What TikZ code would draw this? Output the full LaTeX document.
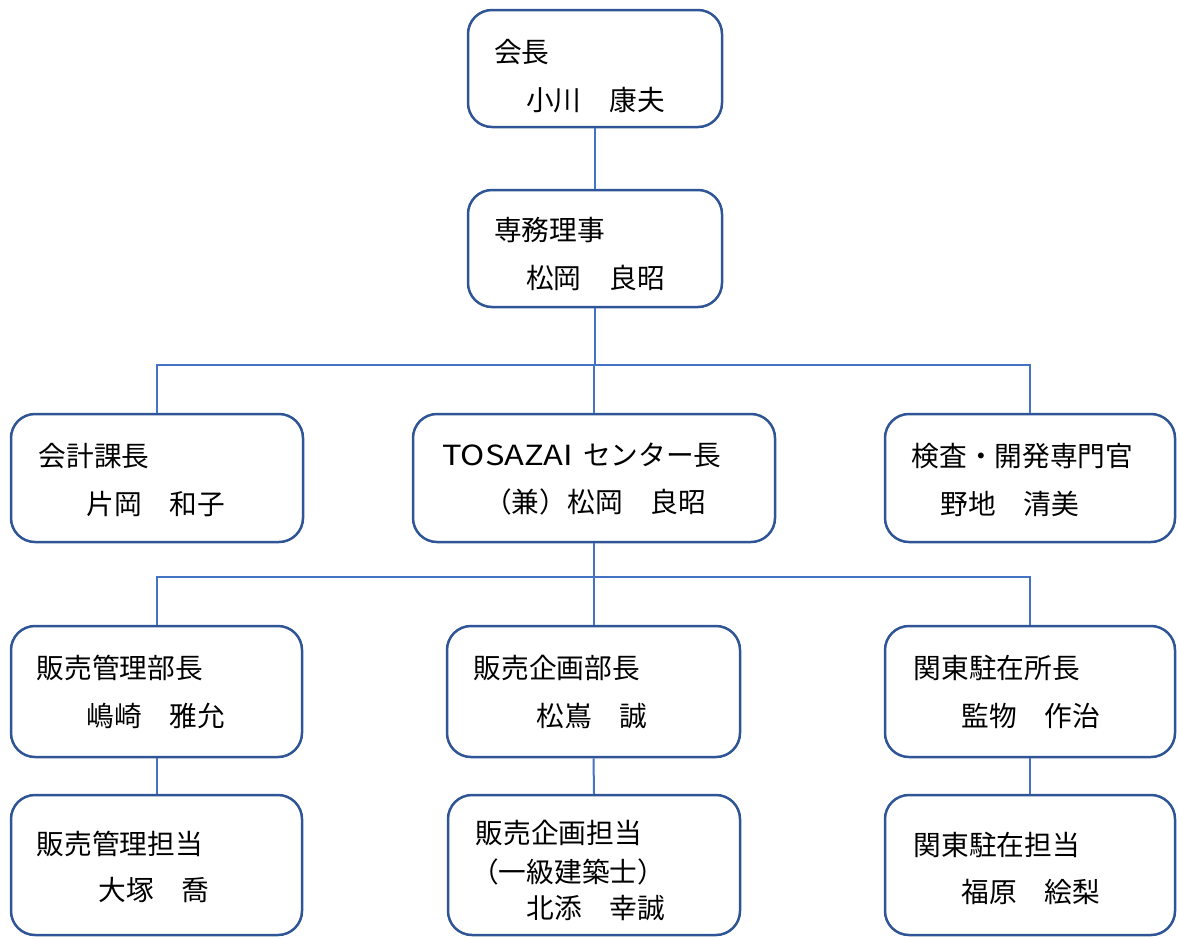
\documentclass[tikz,border=0pt]{standalone}
\usepackage{fontspec}
\setmainfont{Noto Sans CJK JP}
\definecolor{boxc}{HTML}{2F5597}
\definecolor{linec}{HTML}{4472C4}
\newcommand\jpsize{\fontsize{27.7}{33}\selectfont}
\begin{document}
\begin{tikzpicture}[x=1pt,y=-1pt,
  box/.style={rectangle,draw=boxc,line width=2.5pt,rounded corners=24pt,fill=white,inner sep=0pt},
  conn/.style={draw=linec,line width=2pt},
  lbl/.style={anchor=base west,inner sep=0pt,font=\jpsize}]
\useasboundingbox (0,0) rectangle (1177,938);
% boxes
\node[box,minimum width=254pt,minimum height=117pt] (b1) at (595,68.5) {};
\node[box,minimum width=254pt,minimum height=117pt] (b2) at (595,248.5) {};
\node[box,minimum width=292pt,minimum height=128pt] (b3) at (157,478) {};
\node[box,minimum width=362pt,minimum height=128pt] (b4) at (594,478) {};
\node[box,minimum width=290pt,minimum height=128pt] (b5) at (1030,478) {};
\node[box,minimum width=291pt,minimum height=131pt] (b6) at (156.5,691.5) {};
\node[box,minimum width=293pt,minimum height=131pt] (b7) at (593.5,691.5) {};
\node[box,minimum width=290pt,minimum height=131pt] (b8) at (1030,691.5) {};
\node[box,minimum width=291pt,minimum height=140pt] (b9) at (156.5,865) {};
\node[box,minimum width=292pt,minimum height=140pt] (b10) at (594,865) {};
\node[box,minimum width=290pt,minimum height=140pt] (b11) at (1030,865) {};
% connectors
\coordinate (bus1) at (0,365);
\coordinate (bus2) at (0,577);
\draw[conn] (b1.south) -- (b2.north);
\draw[conn] (b2.south) -- (b2.south |- bus1);
\draw[conn] (b3.north) -- (b3.north |- bus1) -- (b5.north |- bus1) -- (b5.north);
\draw[conn] (b4.north) -- (b4.north |- bus1);
\draw[conn] (b4.south) -- (b4.south |- bus2);
\draw[conn] (b6.north) -- (b6.north |- bus2) -- (b8.north |- bus2) -- (b8.north);
\draw[conn] (b7.north) -- (b7.north |- bus2);
\draw[conn] (b6.south) -- (b9.north);
\draw[conn] (b7.south) -- (b10.north);
\draw[conn] (b8.south) -- (b11.north);
% texts
\node[lbl] (t1a) at (494,62) {会長};
\node[lbl] (t1b) at (526,110.5) {小川　康夫};
\node[lbl] (t2a) at (494,240.5) {専務理事};
\node[lbl] (t2b) at (526,288) {松岡　良昭};
\node[lbl] (t3a) at (38.5,466) {会計課長};
\node[lbl] (t3b) at (86.5,514) {片岡　和子};
\node[lbl] (t4a) at (442,465.5) {\scalebox{1.18}[1]{TOSAZAI}\hspace{10pt}センター長};
\node[lbl] (t4b) at (484,512.5) {（兼）松岡　良昭};
\node[lbl] (t5a) at (911.5,466) {検査・開発専門官};
\node[lbl] (t5b) at (940.5,514) {野地　清美};
\node[lbl] (t6a) at (36.5,678.5) {販売管理部長};
\node[lbl] (t6b) at (86.5,726.5) {嶋崎　雅允};
\node[lbl] (t7a) at (473.5,678.5) {販売企画部長};
\node[lbl] (t7b) at (536.5,726.5) {松嶌　誠};
\node[lbl] (t8a) at (913.5,678.5) {関東駐在所長};
\node[lbl] (t8b) at (961.5,726.5) {監物　作治};
\node[lbl] (t9a) at (36.5,854) {販売管理担当};
\node[lbl] (t9b) at (98.5,900.5) {大塚　喬};
\node[lbl] (t10a) at (475.5,843.5) {販売企画担当};
\node[lbl] (t10b) at (471,882.5) {（一級建築士）};
\node[lbl] (t10c) at (526.5,918.5) {北添　幸誠};
\node[lbl] (t11a) at (913.5,855.5) {関東駐在担当};
\node[lbl] (t11b) at (961.5,902.5) {福原　絵梨};
\end{tikzpicture}
\end{document}
